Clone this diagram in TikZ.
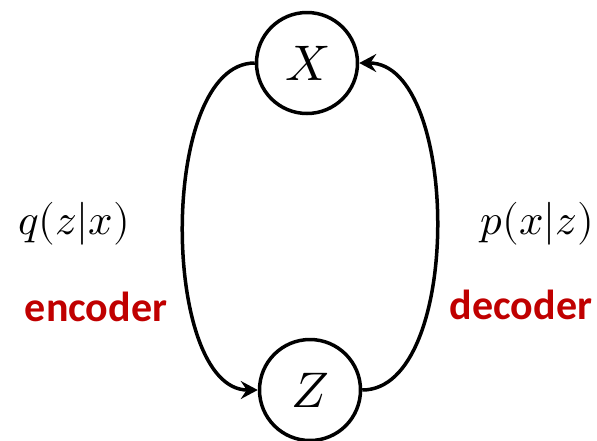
\documentclass[tikz,border=0pt]{standalone}
\usepackage{fontspec}
\usepackage{unicode-math}
\setmathfont{Latin Modern Math}
\newfontfamily\labelfont{Carlito}
\usetikzlibrary{arrows.meta}
\definecolor{darkred}{RGB}{192,0,0}
\begin{document}
\begin{tikzpicture}[x=1pt,y=-1pt,
  var/.style={circle,draw,line width=3.5pt,inner sep=0pt,minimum size=101pt,font=\fontsize{50}{60}\selectfont},
  conn/.style={line width=3.5pt,-{Stealth[length=17pt,width=18pt,inset=6pt]}},
  mathlbl/.style={inner sep=0pt,font=\fontsize{43}{50}\selectfont},
  rolelbl/.style={inner sep=0pt,anchor=base,text=darkred,font=\labelfont\bfseries\fontsize{42}{50}\selectfont}]
\useasboundingbox (0,0) rectangle (597,440);
\node[var] (X) at (307,63) {$X$};
\node[var] (Z) at (310,390) {$Z$};
\draw[conn] (X.west) .. controls +(-97,0) and +(-97,0) .. (Z.west);
\draw[conn] (Z.east) .. controls +(101,0) and +(101,0) .. (X.east);
\node[mathlbl] (q) at (74,224) {$q(z|x)$};
\node[mathlbl] (p) at (537,224) {$p(x|z)$};
\node[rolelbl] (enc) at (96,321) {encoder};
\node[rolelbl] (dec) at (521,319) {decoder};
\end{tikzpicture}
\end{document}
